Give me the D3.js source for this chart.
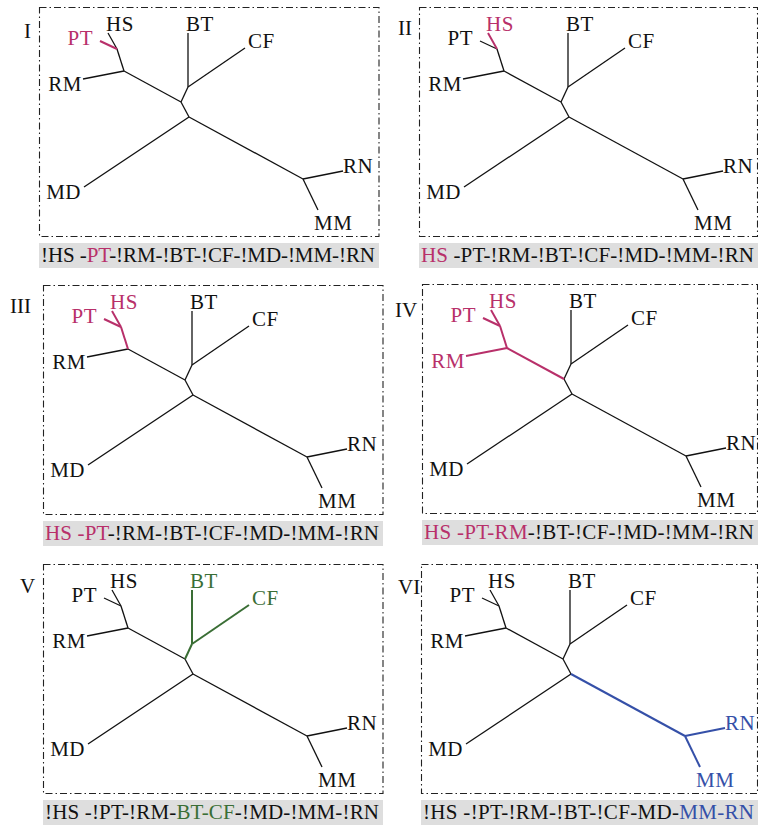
<!DOCTYPE html>
<html>
<head>
<meta charset="utf-8">
<script src="https://cdn.jsdelivr.net/npm/d3@7"></script>
<style>
  html, body { margin: 0; padding: 0; background: #fff; }
  svg text { font-family: "Liberation Serif", "Times New Roman", serif; }
</style>
</head>
<body>
<svg id="chart" width="758" height="827"></svg>
<script>
// tree layout (tree units, same tree in every panel)
const nodeNames = ["HS", "PT", "RM", "BT", "CF", "MD", "RN", "MM", "B", "A", "C", "D", "E", "F"];
const nodeX = [69, 61, 44, 149, 206, 45, 304, 279, 78, 85, 142, 149, 150, 264];
const nodeY = [26, 34, 72, 26, 41, 180, 164, 203, 42, 64, 95, 80, 110, 172];
const leafNames = ["HS", "PT", "RM", "BT", "CF", "MD", "RN", "MM"];

// branches of the unrooted tree
const edges = [
  ["B", "HS"], ["B", "PT"], ["A", "B"], ["A", "RM"], ["A", "C"],
  ["C", "D"], ["D", "BT"], ["D", "CF"], ["C", "E"], ["E", "MD"],
  ["E", "F"], ["F", "RN"], ["F", "MM"]
];

// panels
const panelNames = ["I", "II", "III", "IV", "V", "VI"];
const panelColor = ["mag", "mag", "mag", "mag", "green", "blue"];
const panelLeaves = [
  ["PT"], ["HS"], ["HS", "PT"], ["HS", "PT", "RM"], ["BT", "CF"], ["MM", "RN"]
];
const panelEdges = [
  ["B-PT"], ["B-HS"], ["B-HS", "B-PT", "A-B"],
  ["B-HS", "B-PT", "A-B", "A-RM", "A-C"],
  ["C-D", "D-BT", "D-CF"], ["E-F", "F-RN", "F-MM"]
];
// caption segments: [text, highlighted?]
const captions = [
  [["!HS -", 0], ["PT", 1], ["-!RM-!BT-!CF-!MD-!MM-!RN", 0]],
  [["HS", 1], [" -PT-!RM-!BT-!CF-!MD-!MM-!RN", 0]],
  [["HS -PT", 1], ["-!RM-!BT-!CF-!MD-!MM-!RN", 0]],
  [["HS -PT-RM", 1], ["-!BT-!CF-!MD-!MM-!RN", 0]],
  [["!HS -!PT-!RM-", 0], ["BT-CF", 1], ["-!MD-!MM-!RN", 0]],
  [["!HS -!PT-!RM-!BT-!CF-MD-", 0], ["MM-RN", 1]]
];

// layout / style
const colors = { mag: "#b8306a", green: "#3a6e35", blue: "#3550a8" };
const frames = [
  { fx: 39, fy: 7, lx: 24, ly: 38 },
  { fx: 419, fy: 7, lx: 398, ly: 35 },
  { fx: 43, fy: 285, lx: 10, ly: 313 },
  { fx: 422, fy: 284, lx: 395, ly: 317 },
  { fx: 43, fy: 564, lx: 20, ly: 593 },
  { fx: 421, fy: 564, lx: 398, ly: 594 }
];
const labelPlace = {
  HS: { dx: -2, dy: -2, anchor: "start" },
  PT: { dx: -7, dy: 4, anchor: "end" },
  RM: { dx: -1, dy: 12, anchor: "end" },
  BT: { dx: -2, dy: -2, anchor: "start" },
  CF: { dx: 3, dy: 0, anchor: "start" },
  MD: { dx: -3, dy: 12, anchor: "end" },
  RN: { dx: 0, dy: 2, anchor: "start" },
  MM: { dx: -4, dy: 20, anchor: "start" }
};
const W = 758, frameW = 340, frameH = 229;
const fontSize = 21;

const svg = d3.select("#chart");
const pos = {};
nodeNames.forEach((n, i) => pos[n] = { x: nodeX[i], y: nodeY[i] });

panelNames.forEach((name, p) => {
  const f = frames[p];
  const fw = Math.min(frameW, W - 0.5 - f.fx);
  const x = d3.scaleLinear().domain([0, frameW]).range([f.fx, f.fx + frameW]);
  const y = d3.scaleLinear().domain([0, frameH]).range([f.fy, f.fy + frameH]);
  const col = colors[panelColor[p]];
  const g = svg.append("g");

  // dash-dot frame
  g.append("rect")
    .attr("x", f.fx + 0.5).attr("y", f.fy + 0.5)
    .attr("width", fw - 0.5).attr("height", frameH)
    .attr("fill", "none")
    .attr("stroke", "#222")
    .attr("stroke-width", 1.1)
    .attr("stroke-dasharray", "7,3,1.5,3");

  // roman numeral
  g.append("text")
    .attr("x", f.lx).attr("y", f.ly)
    .attr("font-size", fontSize)
    .attr("fill", "#111")
    .text(name);

  const hl = new Set(panelEdges[p]);
  const edgeData = edges.map(e => ({ a: e[0], b: e[1], on: hl.has(e[0] + "-" + e[1]) }));
  // black first, coloured on top
  edgeData.sort((m, n) => m.on - n.on);

  g.selectAll("line.edge")
    .data(edgeData)
    .join("line")
    .attr("class", "edge")
    .attr("x1", d => x(pos[d.a].x)).attr("y1", d => y(pos[d.a].y))
    .attr("x2", d => x(pos[d.b].x)).attr("y2", d => y(pos[d.b].y))
    .attr("stroke", d => d.on ? col : "#111")
    .attr("stroke-width", d => d.on ? 2 : 1.3)
    .attr("stroke-linecap", "butt");

  const hlLeaves = new Set(panelLeaves[p]);
  g.selectAll("text.leaf")
    .data(leafNames)
    .join("text")
    .attr("class", "leaf")
    .attr("x", d => x(pos[d].x) + labelPlace[d].dx)
    .attr("y", d => y(pos[d].y) + labelPlace[d].dy)
    .attr("text-anchor", d => labelPlace[d].anchor)
    .attr("font-size", fontSize)
    .attr("letter-spacing", 0.5)
    .attr("fill", d => hlLeaves.has(d) ? col : "#111")
    .text(d => d);

  // caption
  const cx = f.fx, cy = f.fy + frameH + 7;
  const cw = Math.min(frameW, W - cx);
  g.append("rect")
    .attr("x", cx).attr("y", cy)
    .attr("width", cw).attr("height", 25)
    .attr("fill", "#dedede");

  const t = g.append("text")
    .attr("x", cx + 2).attr("y", cy + 19)
    .attr("font-size", fontSize)
    .attr("textLength", cw - 6)
    .attr("lengthAdjust", "spacing");
  t.selectAll("tspan")
    .data(captions[p])
    .join("tspan")
    .attr("fill", d => d[1] ? col : "#111")
    .text(d => d[0]);
});
</script>
</body>
</html>
